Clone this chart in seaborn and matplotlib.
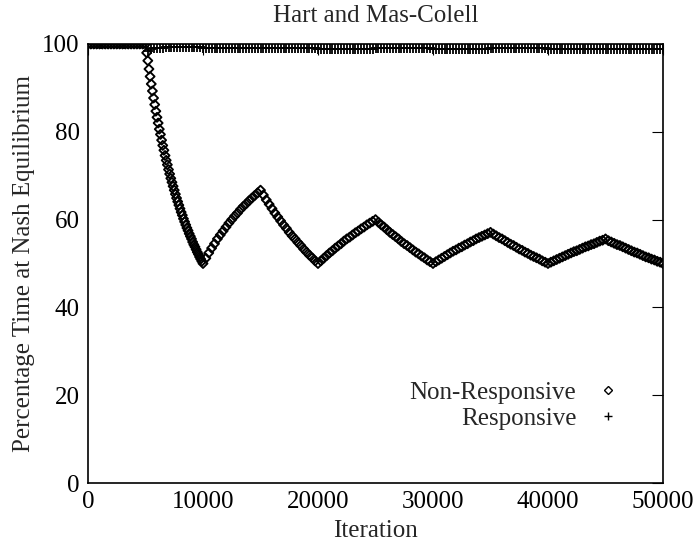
import numpy as np
import pandas as pd
import matplotlib
matplotlib.use("Agg")
import matplotlib.pyplot as plt
from matplotlib.lines import Line2D
import seaborn as sns

# ---------------- data ----------------
title = "Hart and Mas-Colell"
x_label = "Iteration"
y_label = "Percentage Time at Nash Equilibrium"
series_names = ["Non-Responsive", "Responsive"]
x_ticks = [0, 10000, 20000, 30000, 40000, 50000]
y_ticks = [0, 20, 40, 60, 80, 100]

# Non-Responsive sample iterations
nr_iter = np.r_[np.arange(0, 5001, 250), np.arange(5100, 10001, 100), np.arange(10250, 50001, 250)]
nr_flat = [100.0] * 21
nr_drop = [98.0, 96.2, 94.3, 92.6, 90.9, 89.3, 87.7, 86.2, 84.7, 83.3,
           82.0, 80.6, 79.4, 78.1, 76.9, 75.8, 74.6, 73.5, 72.5, 71.4,
           70.4, 69.4, 68.5, 67.6, 66.7, 65.8, 64.9, 64.1, 63.3, 62.5,
           61.7, 61.0, 60.2, 59.5, 58.8, 58.1, 57.5, 56.8, 56.2, 55.6,
           54.9, 54.3, 53.8, 53.2, 52.6, 52.1, 51.5, 51.0, 50.5, 50.0]
nr_seg_a = [51.2, 52.4, 53.5, 54.5, 55.6, 56.5, 57.4, 58.3, 59.2, 60.0,
            60.8, 61.5, 62.3, 63.0, 63.6, 64.3, 64.9, 65.5, 66.1, 66.7]
nr_seg_b = [65.6, 64.5, 63.5, 62.5, 61.5, 60.6, 59.7, 58.8, 58.0, 57.1,
            56.3, 55.6, 54.8, 54.1, 53.3, 52.6, 51.9, 51.3, 50.6, 50.0]
nr_seg_c = [50.6, 51.2, 51.8, 52.4, 52.9, 53.5, 54.0, 54.5, 55.1, 55.6,
            56.0, 56.5, 57.0, 57.4, 57.9, 58.3, 58.8, 59.2, 59.6, 60.0]
nr_seg_d = [59.4, 58.8, 58.3, 57.7, 57.1, 56.6, 56.1, 55.6, 55.0, 54.5,
            54.1, 53.6, 53.1, 52.6, 52.2, 51.7, 51.3, 50.8, 50.4, 50.0]
nr_seg_e = [50.4, 50.8, 51.2, 51.6, 52.0, 52.4, 52.8, 53.1, 53.5, 53.8,
            54.2, 54.5, 54.9, 55.2, 55.6, 55.9, 56.2, 56.5, 56.8, 57.1]
nr_seg_f = [56.7, 56.3, 55.9, 55.6, 55.2, 54.8, 54.4, 54.1, 53.7, 53.3,
            53.0, 52.6, 52.3, 51.9, 51.6, 51.3, 51.0, 50.6, 50.3, 50.0]
nr_seg_g = [50.3, 50.6, 50.9, 51.2, 51.5, 51.8, 52.1, 52.4, 52.7, 52.9,
            53.2, 53.5, 53.8, 54.0, 54.3, 54.5, 54.8, 55.1, 55.3, 55.6]
nr_seg_h = [55.2, 54.9, 54.6, 54.3, 54.1, 53.8, 53.5, 53.2, 52.9, 52.6,
            52.4, 52.1, 51.8, 51.5, 51.3, 51.0, 50.8, 50.5, 50.3, 50.0]
nr_values = (nr_flat + nr_drop + nr_seg_a + nr_seg_b + nr_seg_c + nr_seg_d
             + nr_seg_e + nr_seg_f + nr_seg_g + nr_seg_h)

# Responsive sample iterations (every 250)
r_iter = np.arange(0, 50001, 250)
r_values = (
    [100.0] * 20
    + [100.0, 98.5, 98.8, 99.0, 99.1, 99.2, 99.2, 99.3, 99.3, 99.3,
       99.3, 99.3, 99.3, 99.3, 99.3, 99.3, 99.3, 99.3, 99.3, 99.3]
    + [99.0, 99.0, 99.0, 99.0, 99.0, 99.0, 99.0, 99.0, 99.0, 99.0,
       99.0, 99.0, 99.0, 99.0, 99.0, 99.0, 99.0, 99.0, 99.0, 99.0]
    + [99.1, 99.1, 99.1, 99.1, 99.1, 99.1, 99.1, 99.1, 99.1, 99.1,
       99.1, 99.1, 99.1, 99.1, 99.1, 99.1, 99.1, 99.1, 99.1, 99.1]
    + [98.9, 98.9, 98.9, 98.9, 98.9, 98.9, 98.9, 98.9, 98.9, 98.9,
       98.9, 98.9, 98.9, 98.9, 98.9, 98.9, 98.9, 98.9, 98.9, 98.9]
    + [99.0, 99.0, 99.0, 99.0, 99.0, 99.0, 99.0, 99.0, 99.0, 99.0,
       99.0, 99.0, 99.0, 99.0, 99.0, 99.0, 99.0, 99.0, 99.0, 99.0]
    + [98.9, 98.9, 98.9, 98.9, 98.9, 98.9, 98.9, 98.9, 98.9, 98.9,
       98.9, 98.9, 98.9, 98.9, 98.9, 98.9, 98.9, 98.9, 98.9, 98.9]
    + [99.0, 99.0, 99.0, 99.0, 99.0, 99.0, 99.0, 99.0, 99.0, 99.0,
       99.0, 99.0, 99.0, 99.0, 99.0, 99.0, 99.0, 99.0, 99.0, 99.0]
    + [98.9, 98.9, 98.9, 98.9, 98.9, 98.9, 98.9, 98.9, 98.9, 98.9,
       98.9, 98.9, 98.9, 98.9, 98.9, 98.9, 98.9, 98.9, 98.9, 98.9]
    + [98.9, 98.9, 98.9, 98.9, 98.9, 98.9, 98.9, 98.9, 98.9, 98.9,
       98.9, 98.9, 98.9, 98.9, 98.9, 98.9, 98.9, 98.9, 98.9, 98.9]
    + [98.9]
)

df_nr = pd.DataFrame({"iteration": nr_iter, "pct": nr_values})
df_r = pd.DataFrame({"iteration": r_iter, "pct": r_values})

# ---------------- plotting ----------------
sns.set_theme(style="white")
plt.rcParams['font.family'] = ['Liberation Serif', 'DejaVu Serif']

FS = 18
fig = plt.figure(figsize=(6.97, 5.44), dpi=100)
ax = fig.add_axes([88 / 697, 61 / 544, 575 / 697, 439 / 544])

sns.scatterplot(data=df_r, x="iteration", y="pct", marker="+", s=45,
                color="black", linewidth=1.3, ax=ax, zorder=3, legend=False)
sns.scatterplot(data=df_nr, x="iteration", y="pct", marker="D", s=21,
                facecolor="none", edgecolor="black", linewidth=1.35,
                ax=ax, zorder=4, legend=False)

ax.set_xlim(0, 50000)
ax.set_ylim(0, 100)
ax.set_xticks(x_ticks)
ax.set_yticks(y_ticks)
ax.set_xticklabels([str(t) for t in x_ticks])
ax.set_yticklabels([str(t) for t in y_ticks])
ax.tick_params(direction="in", length=8, width=0.8, top=True, right=True,
               labelsize=FS, colors="black", pad=6)
for sp in ax.spines.values():
    sp.set_visible(True)
    sp.set_color("black")
    sp.set_linewidth(1.2)

ax.set_title(title, fontsize=FS, pad=16)
ax.set_xlabel(x_label, fontsize=FS, labelpad=5)
ax.set_ylabel(y_label, fontsize=FS, labelpad=5)

handles = [
    Line2D([], [], linestyle="", marker="D", markersize=4.5, markerfacecolor="none",
           markeredgecolor="black", markeredgewidth=1.0),
    Line2D([], [], linestyle="", marker="+", markersize=6, color="black",
           markeredgewidth=1.0),
]
leg = ax.legend(handles, series_names, loc="lower right", markerfirst=False,
                frameon=False, fontsize=FS, bbox_to_anchor=(0.947, 0.092),
                handlelength=1.0, handletextpad=0.75, labelspacing=0.15,
                borderpad=0.0)
for t in leg.get_texts():
    t.set_ha("right")
leg._legend_box.align = "right"

fig.savefig("out.png", dpi=100)
